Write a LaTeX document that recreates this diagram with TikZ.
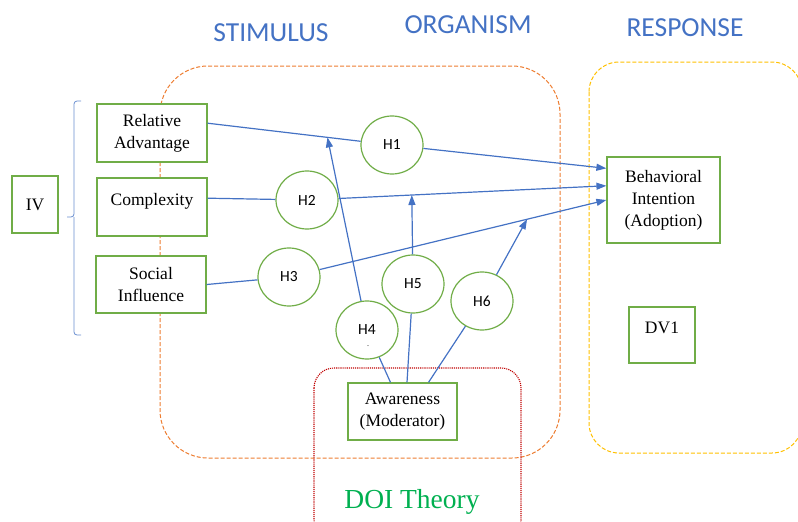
\documentclass[tikz,border=0pt]{standalone}
\usepackage{fontspec}
\setmainfont{Liberation Serif}
\newfontfamily\labelfont{Carlito}
\usepackage{tikz}
\usetikzlibrary{positioning, arrows.meta, calc, shapes.geometric}
\usepackage{xcolor}
\definecolor{boxgreen}{HTML}{70AD47}
\definecolor{linkblue}{HTML}{4472C4}
\definecolor{stimorange}{HTML}{ED7D31}
\definecolor{respyellow}{HTML}{FFC000}
\definecolor{doired}{HTML}{C00000}
\definecolor{doigreen}{HTML}{00B050}

\begin{document}
\begin{tikzpicture}[
    x=1pt, y=-1pt,
    var/.style={draw=boxgreen, line width=1.2pt, fill=white, align=center, inner sep=0pt,
        font=\fontsize{17.5}{22}\selectfont},
    hyp/.style={ellipse, draw=boxgreen, line width=1.2pt, fill=white, inner sep=0pt,
        minimum width=62pt, minimum height=58pt, font=\labelfont\fontsize{15.5}{18}\selectfont},
    head/.style={font=\labelfont\fontsize{27.5}{30}\selectfont, text=linkblue},
    link/.style={linkblue, line width=1.2pt},
    arrw/.style={-{Triangle[length=10pt, width=7pt]}, linkblue, line width=1.2pt}
]
\useasboundingbox (0,0) rectangle (798,522);

% S-O-R frames and the DOI frame
\draw[stimorange, line width=1pt, dash pattern=on 4pt off 2pt, rounded corners=48pt]
    (160,66) rectangle (560,458);
\draw[respyellow, line width=1pt, dash pattern=on 4pt off 2pt, rounded corners=30pt]
    (589,62) rectangle (802,453);
\draw[doired, line width=1.1pt, densely dotted, rounded corners=20pt]
    (314,368) rectangle (521,540);

% Headings
\node[head] (stim) at (271,33) {STIMULUS};
\node[head] (org) at (468,25) {ORGANISM};
\node[head] (resp) at (685,28) {RESPONSE};
\node[font=\fontsize{27.5}{30}\selectfont, text=doigreen] (doi) at (412,502) {DOI Theory};

% Independent variables
\node[var, minimum width=46pt, minimum height=57pt] (iv) at (35,204.5) {IV};
\node[var, minimum width=110pt, minimum height=58pt] (ra) at (152,133) {Relative\\Advantage};
\node[var, minimum width=110pt, minimum height=58pt] (cx) at (152,207) {\raisebox{6pt}[\height][\depth]{Complexity}};
\node[var, minimum width=110pt, minimum height=57pt] (si) at (151,284.5) {Social\\Influence};
\draw[linkblue!80, line width=0.8pt, rounded corners=3pt]
    (81,101) -- (74,101) -- (74,217) -- (67,217)
    (74,217) -- (74,335) -- (81,335);

% Dependent variables and moderator
\node[var, minimum width=113pt, minimum height=86pt] (bi) at (663.5,200) {Behavioral\\Intention\\(Adoption)};
\node[var, minimum width=66pt, minimum height=56pt] (dv) at (662,335) {\raisebox{7pt}[\height][\depth]{DV1}};
\node[var, minimum width=109pt, minimum height=57pt] (aw) at (402.5,411.5) {Awareness\\(Moderator)};

% Hypotheses
\node[hyp] (h1) at (392,145) {H1};
\node[hyp] (h2) at (307,200) {H2};
\node[hyp] (h3) at (289,277) {H3};
\node[hyp] (h4) at (367,330) {H4};
\node[font=\fontsize{8}{8}\selectfont, inner sep=0pt] (h4-dot) at (368,346) {.};
\node[hyp] (h5) at (413,284) {H5};
\node[hyp] (h6) at (482,301) {H6};

% Direct paths
\draw[link] (ra.10) -- (h1);
\draw[arrw] (h1) -- (bi.151);
\draw[link] (cx.9) -- (h2);
\draw[arrw] (h2) -- (bi.166);
\draw[link] (si.east) -- (h3);
\draw[arrw] (h3) -- (bi.west);

% Moderating paths
\coordinate (t4) at ($(ra.10)!0.65!(h1.center)$);
\coordinate (t5) at ($(h2.center)!0.35!(bi.166)$);
\coordinate (t6) at ($(h3.center)!0.75!(bi.west)$);
\draw[link] ([xshift=-12pt]aw.north) -- (h4);
\draw[link] ([xshift=4.5pt]aw.north) -- (h5);
\draw[link] ([xshift=26pt]aw.north) -- (h6);
\draw[arrw] (h4) -- (t4);
\draw[arrw] (h5) -- (t5);
\draw[arrw] (h6) -- (t6);

\end{tikzpicture}
\end{document}
